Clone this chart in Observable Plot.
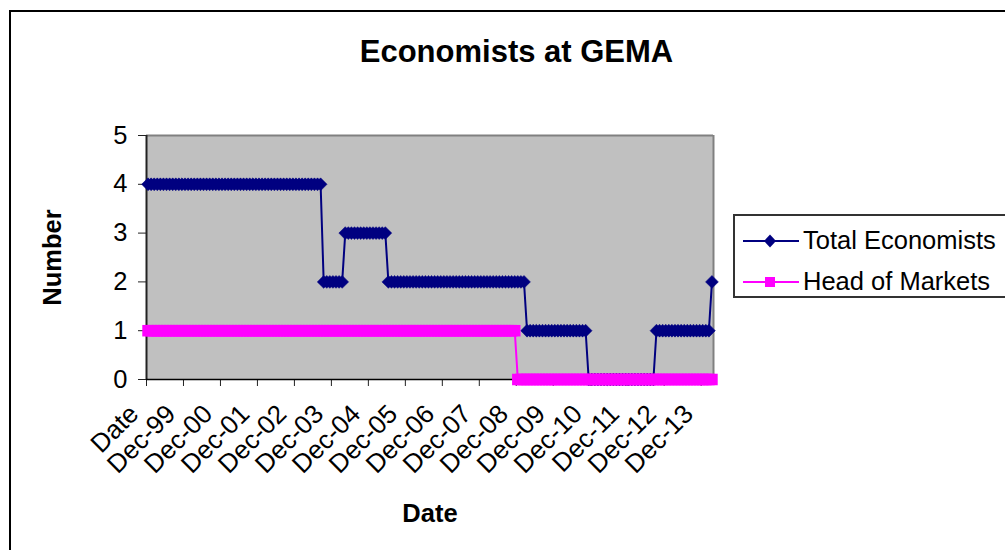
<!DOCTYPE html>
<html>
<head>
<meta charset="utf-8">
<script src="https://cdn.jsdelivr.net/npm/d3@7"></script>
<script src="https://cdn.jsdelivr.net/npm/@observablehq/plot@0.6"></script>
<style>
  html, body { margin: 0; padding: 0; background: #fff; overflow: hidden; width: 1005px; height: 550px; }
  body { position: relative; font-family: "Liberation Sans", Arial, sans-serif; }
  #outer { position: absolute; left: 9px; top: 10px; width: 1200px; height: 800px; border: 2px solid #000; box-sizing: border-box; }
  #chart { position: absolute; left: 0; top: 0; }
  #legend { position: absolute; left: 733px; top: 214px; width: 320px; height: 84px; border: 2px solid #333; box-sizing: border-box; background: #fff; }
  .entry { position: absolute; left: 0; height: 40px; }
  .entry svg { position: absolute; left: 7px; top: 0; }
  .entry span { position: absolute; left: 68px; font-size: 25.5px; color: #000; white-space: nowrap; line-height: 1; }
</style>
</head>
<body>
<div id="outer"></div>
<div id="chart"></div>
<div id="legend">
  <div class="entry" style="top:4px">
    <svg width="58" height="40"><line x1="1" x2="57" y1="21" y2="21" stroke="#000080" stroke-width="2"/><path d="M28,14.5L34,21L28,27.5L22,21Z" fill="#000080"/></svg>
    <span style="top:8px">Total Economists</span>
  </div>
  <div class="entry" style="top:45px">
    <svg width="58" height="40"><line x1="1" x2="57" y1="21" y2="21" stroke="#ff00ff" stroke-width="2"/><rect x="23" y="16" width="10" height="10" fill="#ff00ff"/></svg>
    <span style="top:8px">Head of Markets</span>
  </div>
</div>
<script>
// Category tick labels (one every 12 monthly categories)
const tickLabels = ["Date","Dec-99","Dec-00","Dec-01","Dec-02","Dec-03","Dec-04","Dec-05","Dec-06","Dec-07","Dec-08","Dec-09","Dec-10","Dec-11","Dec-12","Dec-13"];
const tickIndex = [0,12,24,36,48,60,72,84,96,108,120,132,144,156,168,180];
const yTicks = [0,1,2,3,4,5];

// Total Economists, one value per category (first "Date" row, then Jan-99 ... Mar-14)
const totalEconomists = [
  4,
  4,4,4,4,4,4,4,4,4,4,4,4,
  4,4,4,4,4,4,4,4,4,4,4,4,
  4,4,4,4,4,4,4,4,4,4,4,4,
  4,4,4,4,4,4,4,4,4,4,4,4,
  4,4,4,4,4,4,4,4,2,2,2,2,
  2,2,2,3,3,3,3,3,3,3,3,3,
  3,3,3,3,3,2,2,2,2,2,2,2,
  2,2,2,2,2,2,2,2,2,2,2,2,
  2,2,2,2,2,2,2,2,2,2,2,2,
  2,2,2,2,2,2,2,2,2,2,2,2,
  2,2,1,1,1,1,1,1,1,1,1,1,
  1,1,1,1,1,1,1,1,1,1,0,0,
  0,0,0,0,0,0,0,0,0,0,0,0,
  0,0,0,0,0,0,0,0,1,1,1,1,
  1,1,1,1,1,1,1,1,1,1,1,1,
  1,1,2
];
// Head of Markets
const headOfMarkets = [
  1,
  1,1,1,1,1,1,1,1,1,1,1,1,
  1,1,1,1,1,1,1,1,1,1,1,1,
  1,1,1,1,1,1,1,1,1,1,1,1,
  1,1,1,1,1,1,1,1,1,1,1,1,
  1,1,1,1,1,1,1,1,1,1,1,1,
  1,1,1,1,1,1,1,1,1,1,1,1,
  1,1,1,1,1,1,1,1,1,1,1,1,
  1,1,1,1,1,1,1,1,1,1,1,1,
  1,1,1,1,1,1,1,1,1,1,1,1,
  1,1,1,1,1,1,1,1,1,1,1,0,
  0,0,0,0,0,0,0,0,0,0,0,0,
  0,0,0,0,0,0,0,0,0,0,0,0,
  0,0,0,0,0,0,0,0,0,0,0,0,
  0,0,0,0,0,0,0,0,0,0,0,0,
  0,0,0,0,0,0,0,0,0,0,0,0,
  0,0,0
];

const nCat = totalEconomists.length;
const rows = totalEconomists.map((v, i) => ({c: i + 0.5, total: v, head: headOfMarkets[i]}));
const labels = tickIndex.map((t, k) => ({c: t + 0.5, label: tickLabels[k]}));

const W = 1005, H = 550;
const L = 146, R = 713, T = 135, B = 379;
const font = "'Liberation Sans', Arial, sans-serif";

const chart = Plot.plot({
  width: W, height: H,
  marginLeft: L, marginRight: W - R, marginTop: T, marginBottom: H - B,
  x: {domain: [0, nCat], axis: null},
  y: {domain: [0, 5], axis: null},
  style: {fontFamily: font, background: "transparent", color: "#000", overflow: "visible"},
  marks: [
    Plot.frame({fill: "#c0c0c0", stroke: null}),
    Plot.ruleY([5], {stroke: "#808080", strokeWidth: 2}),
    Plot.ruleX([nCat], {stroke: "#808080", strokeWidth: 2}),
    Plot.axisY({ticks: yTicks, tickSize: 8, tickPadding: 11, fontSize: 25.5, tickFormat: d => String(d), stroke: "#222", label: null}),
    Plot.axisX({ticks: tickIndex, tickSize: 7, tickFormat: () => "", stroke: "#222", label: null}),
    Plot.ruleX([0], {stroke: "#222", strokeWidth: 2}),
    Plot.ruleY([0], {stroke: "#000", strokeWidth: 1.5}),
    Plot.text(labels, {x: "c", text: "label", frameAnchor: "bottom", rotate: -45, textAnchor: "end", lineAnchor: "bottom", dx: -8, dy: 36, fontSize: 26, fill: "#000"}),
    // series 1
    Plot.line(rows, {x: "c", y: "total", stroke: "#000080", strokeWidth: 2}),
    Plot.dot(rows, {x: "c", y: "total", symbol: "diamond2", r: 5.8, fill: "#000080", stroke: "#000080", strokeWidth: 0.5}),
    // series 2
    Plot.line(rows, {x: "c", y: "head", stroke: "#ff00ff", strokeWidth: 2}),
    Plot.dot(rows, {x: "c", y: "head", symbol: "square", r: 6.5, fill: "#ff00ff"}),
    // titles
    Plot.text(["Economists at GEMA"], {frameAnchor: "top", dx: 516 - (L + R) / 2, dy: 52 - T, lineAnchor: "middle", fontSize: 31, fontWeight: "bold", fill: "#000"}),
    Plot.text(["Number"], {frameAnchor: "left", dx: 52.5 - L, textAnchor: "middle", lineAnchor: "middle", rotate: -90, fontSize: 25.5, fontWeight: "bold", fill: "#000"}),
    Plot.text(["Date"], {frameAnchor: "bottom", dy: 513 - B, lineAnchor: "middle", fontSize: 25.5, fontWeight: "bold", fill: "#000"})
  ]
});
document.getElementById("chart").appendChild(chart);
</script>
</body>
</html>
